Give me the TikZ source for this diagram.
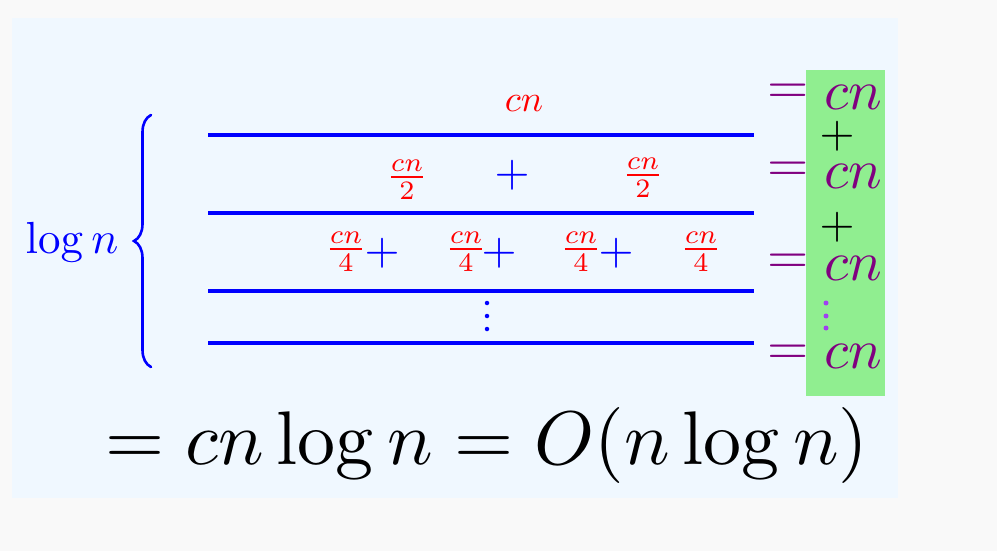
\documentclass[tikz,border=0pt]{standalone}
\usepackage{graphicx}
\usetikzlibrary{decorations.pathreplacing}
\definecolor{outerbg}{HTML}{F9F9F9}
\definecolor{panelbg}{HTML}{F0F8FF}
\definecolor{boxgreen}{HTML}{90EE90}
\definecolor{purp}{HTML}{800080}
\definecolor{dotviolet}{HTML}{A040F0}
\newcommand{\bigmath}[2]{\scalebox{#1}{$#2$}}
\begin{document}
\begin{tikzpicture}[x=1pt,y=-1pt,
  levelline/.style={draw=blue, line width=4pt},
  redtxt/.style={text=red, inner sep=0pt, anchor=base},
  blueplus/.style={text=blue, inner sep=0pt, anchor=center},
  blackplus/.style={text=black, inner sep=0pt, anchor=center},
  purpeq/.style={text=purp, inner sep=0pt, anchor=center},
  purpcn/.style={text=purp, inner sep=0pt, anchor=base},
  dotstyle/.style={circle, inner sep=0pt, minimum size=5pt},
]
\useasboundingbox (0,0) rectangle (997,551);
\fill[outerbg] (0,0) rectangle (997,551);
\fill[panelbg] (12,18) rectangle (898,498);
\fill[boxgreen] (806,70) rectangle (885,396);

% level lines
\coordinate (l1a) at (208,135); \coordinate (l1b) at (754,135);
\coordinate (l2a) at (208,213); \coordinate (l2b) at (754,213);
\coordinate (l3a) at (208,291); \coordinate (l3b) at (754,291);
\coordinate (l4a) at (208,343); \coordinate (l4b) at (754,343);
\draw[levelline] (l1a) -- (l1b);
\draw[levelline] (l2a) -- (l2b);
\draw[levelline] (l3a) -- (l3b);
\draw[levelline] (l4a) -- (l4b);

% row 1
\node[redtxt] (top) at (524,111) {\bigmath{3.7}{cn}};

% row 2
\node[redtxt] (h1) at (407,186.5) {\bigmath{3.8}{\frac{cn}{2}}};
\node[blueplus] (p21) at (512,175) {\bigmath{4.5}{+}};
\node[redtxt] (h2) at (643,184.5) {\bigmath{3.8}{\frac{cn}{2}}};

% row 3
\node[redtxt] (q1) at (346,258.5) {\bigmath{3.8}{\frac{cn}{4}}};
\node[blueplus] (p31) at (382,253) {\bigmath{4.5}{+}};
\node[redtxt] (q2) at (466,258.5) {\bigmath{3.8}{\frac{cn}{4}}};
\node[blueplus] (p32) at (499,253) {\bigmath{4.5}{+}};
\node[redtxt] (q3) at (581,258.5) {\bigmath{3.8}{\frac{cn}{4}}};
\node[blueplus] (p33) at (616,253) {\bigmath{4.5}{+}};
\node[redtxt] (q4) at (701,258.5) {\bigmath{3.8}{\frac{cn}{4}}};

% blue vdots
\node[dotstyle, fill=blue, minimum size=4.5pt] (bd1) at (487,303) {};
\node[dotstyle, fill=blue, minimum size=4.5pt] (bd2) at (487,316) {};
\node[dotstyle, fill=blue, minimum size=4.5pt] (bd3) at (487,329) {};

% brace and log n
\coordinate (brb) at (151,367);
\coordinate (brt) at (151,115);
\draw[blue, line width=2.6pt, line cap=round,
  decoration={brace, amplitude=17pt}, decorate] (brb) -- (brt);
\node[text=blue, inner sep=0pt, anchor=base] (logn) at (72,253) {\bigmath{4.5}{\log n}};

% right column
\node[purpeq] (e1) at (788,94) {\bigmath{5.3}{=}};
\node[purpcn] (c1) at (853,110) {\bigmath{5.6}{cn}};
\node[blackplus] (bp1) at (837,136) {\bigmath{4.5}{+}};
\node[purpeq] (e2) at (788,172) {\bigmath{5.3}{=}};
\node[purpcn] (c2) at (853,188) {\bigmath{5.6}{cn}};
\node[blackplus] (bp2) at (837,227) {\bigmath{4.5}{+}};
\node[purpeq] (e3) at (788,264) {\bigmath{5.3}{=}};
\node[purpcn] (c3) at (853,280) {\bigmath{5.6}{cn}};
\node[dotstyle, fill=dotviolet] (vd1) at (826,303) {};
\node[dotstyle, fill=dotviolet] (vd2) at (826,316) {};
\node[dotstyle, fill=dotviolet] (vd3) at (826,328) {};
\node[purpeq] (e4) at (788,355) {\bigmath{5.3}{=}};
\node[purpcn] (c4) at (853,368) {\bigmath{5.6}{cn}};

% bottom formula
\node[inner sep=0pt, anchor=base] (result) at (487,464) {\bigmath{7.6}{= cn\log n = O(n\log n)}};
\end{tikzpicture}
\end{document}
